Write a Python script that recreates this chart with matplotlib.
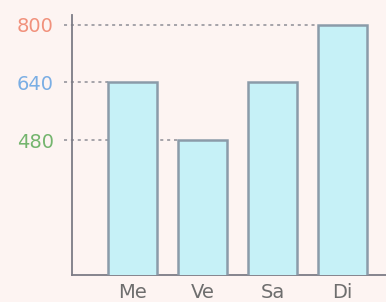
import matplotlib
matplotlib.use("Agg")
import matplotlib.pyplot as plt

days = ["Me", "Ve", "Sa", "Di"]
values = [640, 480, 640, 800]
tick_values = [480, 640, 800]
tick_colors = ["#74b56e", "#7aaee4", "#f1917c"]

bg = "#fdf4f2"
fig = plt.figure(figsize=(3.86, 3.02), dpi=100, facecolor=bg)
ax = fig.add_axes([0.1865, 0.089, 0.8135, 0.861])
ax.set_facecolor(bg)

width = 0.7
x = range(len(days))
ax.bar(x, values, width=width, bottom=0, color="#c6f1f7",
       edgecolor="#8b9ba9", linewidth=1.8, zorder=3)

ax.set_xlim(-0.864, 3.62)
ax.set_ylim(108, 826)

# dashed guide lines from the axis to the first bar reaching each value
for v in tick_values:
    first = next(i for i, val in enumerate(values) if val == v)
    ax.plot([-0.98, first - width / 2], [v, v], linestyle=(0, (2, 2.5)),
            color="#8e8e96", linewidth=1.1, clip_on=False, zorder=2)

for s in ["top", "right"]:
    ax.spines[s].set_visible(False)
ax.spines["left"].set_color("#7c7c86")
ax.spines["bottom"].set_color("#7c7c86")
ax.spines["left"].set_linewidth(1.3)
ax.spines["bottom"].set_linewidth(1.3)

ax.set_yticks(tick_values)
ax.set_yticklabels([str(v) for v in tick_values], fontsize=14)
for lab, c in zip(ax.get_yticklabels(), tick_colors):
    lab.set_color(c)
ax.tick_params(axis="y", length=0, pad=13)

ax.set_xticks(list(x))
ax.set_xticklabels(days, fontsize=14, color="#6e6e6e")
ax.tick_params(axis="x", length=0, pad=6)

fig.savefig("out.png", dpi=100, facecolor=bg)
